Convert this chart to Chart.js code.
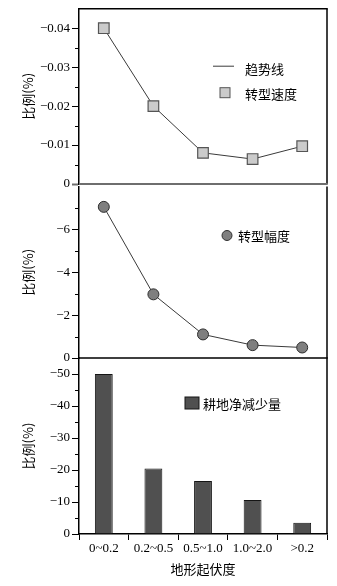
<!DOCTYPE html>
<html><head><meta charset="utf-8">
<script src="https://cdn.jsdelivr.net/npm/chart.js@4"></script>
<style>
html,body{margin:0;padding:0;background:#fff;}
#wrap{position:relative;width:337px;height:586px;overflow:hidden;background:#fff;}
.c{position:absolute;left:0;}
</style></head><body>
<div id="wrap">
<canvas id="c1" class="c" style="top:0" width="337" height="200"></canvas>
<canvas id="c2" class="c" style="top:180px" width="337" height="190"></canvas>
<canvas id="c3" class="c" style="top:350px" width="337" height="236"></canvas>
</div>
<script>
// ---- data ----
const categories = ['0~0.2', '0.2~0.5', '0.5~1.0', '1.0~2.0', '>0.2'];
const speedValues = [-0.040, -0.020, -0.0080, -0.0064, -0.0097];
const amplitudeValues = [-7.05, -2.97, -1.10, -0.60, -0.49];
const croplandValues = [-50, -20.5, -16.6, -10.6, -3.5];
// axis ranges: [min, max, major step]
const speedAxis = [-0.045, 0, 0.01];
const amplitudeAxis = [-8, 0, 2];
const croplandAxis = [-55, 0, 10];
const yTitle = '比例(%)';
const xTitle = '地形起伏度';
const legendSpeed = ['趋势线', '转型速度'];
const legendAmplitude = ['转型幅度'];
const legendCropland = ['耕地净减少量'];

const SERIF = '"Liberation Serif", "Times New Roman", serif';
const CJK = '"Noto Sans CJK SC", sans-serif';

function fmt(dec) {
  return v => (Math.abs(v) < 1e-12 ? '0' : (v < 0 ? '\u2212' : '') + Math.abs(v).toFixed(dec));
}

function yAxis(range, dec, zeroColor) {
  return {
    type: 'linear', reverse: true, min: range[0], max: range[1],
    afterFit(s) { s.width = 79; s.paddingTop = 0; s.paddingBottom = 0; },
    afterBuildTicks(s) { s.ticks = s.ticks.filter(t => t.value > s.min + 1e-9); },
    ticks: { stepSize: range[2], includeBounds: false, color: '#000', padding: 2,
      font: { family: SERIF, size: 13 }, callback: fmt(dec) },
    grid: { drawOnChartArea: false, drawTicks: true, tickLength: 7,
      tickColor: c => (zeroColor && c.tick && Math.abs(c.tick.value) < 1e-12 ? zeroColor : '#000'),
      tickWidth: c => (zeroColor && c.tick && Math.abs(c.tick.value) < 1e-12 ? 2 : 1) },
    border: { display: true, color: '#000', width: 1.5 },
    title: { display: true, text: yTitle, color: '#000', font: { family: CJK, size: 13 },
      padding: { top: 20, bottom: 0 } }
  };
}

const framePlugin = {
  id: 'frame',
  afterDraw(chart, args, o) {
    const { ctx, chartArea: a } = chart;
    const y = chart.scales.y;
    ctx.save();
    // minor ticks between major ticks
    ctx.strokeStyle = '#000'; ctx.lineWidth = 1;
    for (let v = y.max - o.step / 2; v > y.min + 1e-9; v -= o.step) {
      const py = Math.round(y.getPixelForValue(v)) + 0.5;
      ctx.beginPath(); ctx.moveTo(a.left - 4, py); ctx.lineTo(a.left, py); ctx.stroke();
    }
    // frame lines
    ctx.strokeStyle = '#000'; ctx.lineWidth = 1.5;
    ctx.beginPath(); ctx.moveTo(a.right, a.top); ctx.lineTo(a.right, a.bottom); ctx.stroke();
    if (o.top) {
      ctx.strokeStyle = o.top.color; ctx.lineWidth = o.top.width;
      ctx.beginPath(); ctx.moveTo(a.left, a.top); ctx.lineTo(a.right + 0.75, a.top); ctx.stroke();
    }
    if (o.bottom) {
      ctx.strokeStyle = o.bottom.color; ctx.lineWidth = o.bottom.width;
      ctx.beginPath(); ctx.moveTo(a.left, a.bottom); ctx.lineTo(a.right + 0.75, a.bottom); ctx.stroke();
    }
    // legend
    const ds = chart.data.datasets[0];
    ctx.font = '13px ' + CJK; ctx.textBaseline = 'middle'; ctx.textAlign = 'left';
    (o.legend || []).forEach(it => {
      const sx = a.left + it.sx, sy = a.top + it.sy;
      ctx.lineWidth = 1;
      if (it.type === 'line') {
        ctx.strokeStyle = ds.borderColor; ctx.beginPath();
        ctx.moveTo(sx - 10, sy - 1.5); ctx.lineTo(sx + 11, sy - 1.5); ctx.stroke();
      } else if (it.type === 'rect') {
        ctx.fillStyle = ds.pointBackgroundColor; ctx.strokeStyle = ds.pointBorderColor;
        ctx.fillRect(sx - 5, sy - 5, 10, 10); ctx.strokeRect(sx - 5, sy - 5, 10, 10);
      } else if (it.type === 'circle') {
        ctx.fillStyle = ds.pointBackgroundColor; ctx.strokeStyle = ds.pointBorderColor;
        ctx.beginPath(); ctx.arc(sx, sy, 5, 0, Math.PI * 2); ctx.fill(); ctx.stroke();
      } else if (it.type === 'bar') {
        ctx.fillStyle = ds.backgroundColor; ctx.strokeStyle = ds.borderColor;
        ctx.fillRect(sx - 7, sy - 6, 14, 12); ctx.strokeRect(sx - 7, sy - 6, 14, 12);
      }
      ctx.fillStyle = '#000';
      ctx.fillText(it.label, a.left + it.tx, sy + 1);
    });
    ctx.restore();
  }
};

const hiddenX = { type: 'category', labels: categories, offset: true, display: false };
const baseOpts = { responsive: false, animation: false, devicePixelRatio: 1 };

new Chart(document.getElementById('c1'), {
  type: 'line',
  data: { labels: categories, datasets: [{
    data: speedValues, borderColor: '#3a3a3a', borderWidth: 1, tension: 0,
    pointStyle: 'rect', pointRadius: 7.5, pointBackgroundColor: '#cbcbcb',
    pointBorderColor: '#555', pointBorderWidth: 1.2 }] },
  options: Object.assign({}, baseOpts, {
    layout: { padding: { top: 8, bottom: 16, left: 0, right: 10 } },
    scales: { x: hiddenX, y: yAxis(speedAxis, 2, '#6e6e6e') },
    plugins: { legend: { display: false }, tooltip: { enabled: false },
      frame: { step: speedAxis[2], top: { color: '#000', width: 1.5 }, bottom: { color: '#6e6e6e', width: 2 },
        legend: [ { type: 'line', sx: 144, sy: 59, tx: 166, label: legendSpeed[0] },
                  { type: 'rect', sx: 146, sy: 84, tx: 166, label: legendSpeed[1] } ] } }
  }),
  plugins: [framePlugin]
});

new Chart(document.getElementById('c2'), {
  type: 'line',
  data: { labels: categories, datasets: [{
    data: amplitudeValues, borderColor: '#3a3a3a', borderWidth: 1, tension: 0,
    pointStyle: 'circle', pointRadius: 5.5, pointBackgroundColor: '#7f7f7f',
    pointBorderColor: '#2e2e2e', pointBorderWidth: 1 }] },
  options: Object.assign({}, baseOpts, {
    layout: { padding: { top: 4, bottom: 12, left: 0, right: 10 } },
    scales: { x: hiddenX, y: yAxis(amplitudeAxis, 0, null) },
    plugins: { legend: { display: false }, tooltip: { enabled: false },
      frame: { step: amplitudeAxis[2], bottom: { color: '#000', width: 1.2 },
        legend: [ { type: 'circle', sx: 148, sy: 49, tx: 159, label: legendAmplitude[0] } ] } }
  }),
  plugins: [framePlugin]
});

const y3 = yAxis(croplandAxis, 0, null);
new Chart(document.getElementById('c3'), {
  type: 'bar',
  data: { labels: categories, datasets: [{
    data: croplandValues, backgroundColor: '#505050', borderColor: '#151515', borderWidth: 1,
    categoryPercentage: 1, barPercentage: 0.36 }] },
  options: Object.assign({}, baseOpts, {
    layout: { padding: { top: 8, bottom: 0, left: 0, right: 10 } },
    scales: {
      x: { type: 'category', labels: categories, offset: true,
        afterFit(s) { s.height = 52; s.paddingLeft = 0; s.paddingRight = 0; },
        ticks: { color: '#000', maxRotation: 0, autoSkip: false, padding: 1,
          font: { family: SERIF, size: 13 } },
        grid: { offset: true, drawOnChartArea: false, drawTicks: true, tickLength: 6, tickColor: '#000', tickWidth: 1 },
        border: { display: true, color: '#000', width: 1.5 },
        title: { display: true, text: xTitle, color: '#000', font: { family: CJK, size: 13 },
          padding: { top: 2, bottom: 9 } } },
      y: y3 },
    plugins: { legend: { display: false }, tooltip: { enabled: false },
      frame: { step: croplandAxis[2], top: { color: '#000', width: 1.2 },
        legend: [ { type: 'bar', sx: 113, sy: 45, tx: 124, label: legendCropland[0] } ] } }
  }),
  plugins: [framePlugin]
});
</script>
</body></html>
